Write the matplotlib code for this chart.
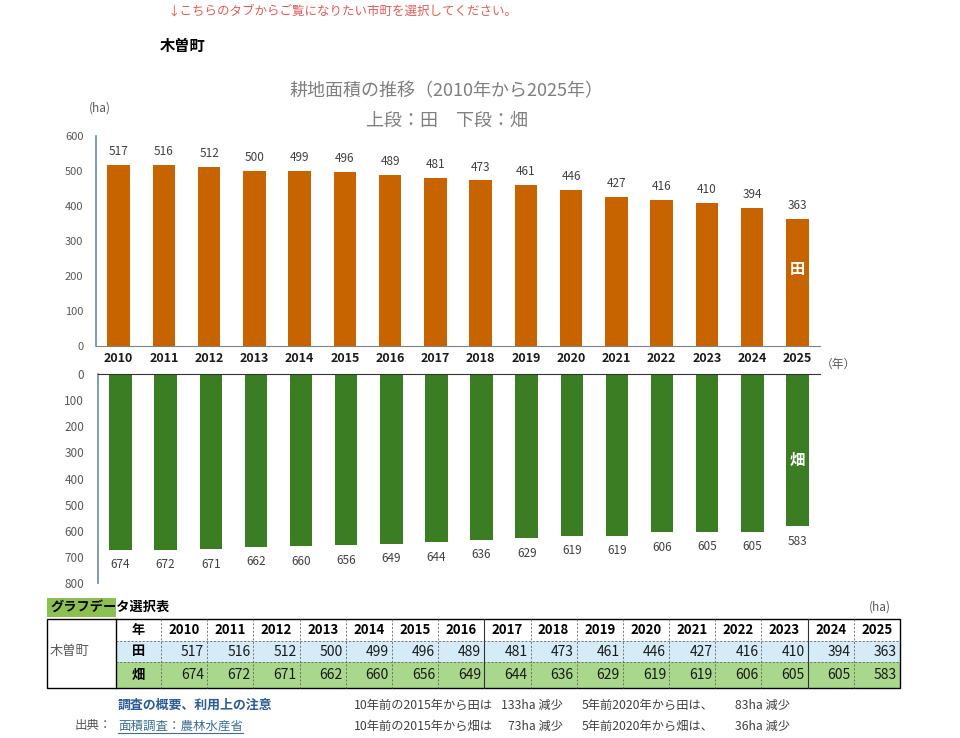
import numpy as np
import matplotlib.pyplot as plt

plt.rcParams['font.family'] = ['Noto Sans CJK JP', 'DejaVu Sans']

# data
town = '木曽町'
years = [2010, 2011, 2012, 2013, 2014, 2015, 2016, 2017,
         2018, 2019, 2020, 2021, 2022, 2023, 2024, 2025]
ta = [517, 516, 512, 500, 499, 496, 489, 481, 473, 461, 446, 427, 416, 410, 394, 363]      # 田
hata = [674, 672, 671, 662, 660, 656, 649, 644, 636, 629, 619, 619, 606, 605, 605, 583]    # 畑

W, H = 960, 738
fig = plt.figure(figsize=(W / 100, H / 100), dpi=100)


def box(l, t, r, b):
    # pixel box -> figure rect
    return [l / W, 1 - b / H, (r - l) / W, (b - t) / H]


x = np.arange(len(years))
axis_col = '#6A8CA3'

### 上段：田
ax1 = fig.add_axes(box(96, 136, 820, 346))
ax1.bar(x, ta, width=0.5, color='#C86400')
ax1.set_xlim(-0.5, len(years) - 0.5)
ax1.set_ylim(0, 600)
ax1.set_yticks(range(0, 601, 100))
ax1.set_xticks(x)
ax1.set_xticklabels(years, fontweight='bold', fontsize=9, color='#1A1A1A')
ax1.tick_params(length=0)
ax1.tick_params(axis='y', labelsize=8, labelcolor='#595959', pad=9)
ax1.tick_params(axis='x', pad=4.5)
for s in ['top', 'right']:
    ax1.spines[s].set_visible(False)
ax1.spines['left'].set_color(axis_col)
ax1.spines['left'].set_linewidth(1.2)
ax1.spines['bottom'].set_color('#808080')
for xi, v in zip(x, ta):
    ax1.annotate(str(v), (xi, v), xytext=(0, 5), textcoords='offset points',
                 ha='center', va='bottom', fontsize=8.5, color='#404040')
ax1.text(x[-1], 220, '田', color='white', fontweight='bold', fontsize=11,
         ha='center', va='center')

### 下段：畑
ax2 = fig.add_axes(box(98, 374, 820, 583))
ax2.bar(x, hata, width=0.5, color='#3A7D22')
ax2.set_xlim(-0.5, len(years) - 0.5)
ax2.set_ylim(800, 0)
ax2.set_yticks(range(0, 801, 100))
ax2.set_xticks([])
ax2.tick_params(length=0)
ax2.tick_params(axis='y', labelsize=8.5, labelcolor='#595959', pad=10)
for s in ['bottom', 'right']:
    ax2.spines[s].set_visible(False)
ax2.spines['left'].set_color(axis_col)
ax2.spines['left'].set_linewidth(1.2)
ax2.spines['top'].set_color('#333333')
for xi, v in zip(x, hata):
    ax2.annotate(str(v), (xi, v), xytext=(0, -6), textcoords='offset points',
                 ha='center', va='top', fontsize=8.5, color='#404040')
ax2.text(x[-1], 330, '畑', color='white', fontweight='bold', fontsize=11,
         ha='center', va='center')

### overlay in pixel coords
ov = fig.add_axes([0, 0, 1, 1])
ov.set_xlim(0, W)
ov.set_ylim(H, 0)
ov.axis('off')
ov.patch.set_alpha(0)

ov.text(168, 11, '↓こちらのタブからご覧になりたい市町を選択してください。',
        color='#E25A5A', fontsize=9, va='center', ha='left')
ov.text(160, 46, town, fontsize=11, fontweight='bold', va='center', ha='left')
ov.text(447, 91, '耕地面積の推移（2010年から2025年）', color='#7F7F7F',
        fontsize=13, ha='center', va='center')
ov.text(447, 121, '上段：田　下段：畑', color='#7F7F7F', fontsize=13,
        ha='center', va='center')
ov.text(100, 108, '(ha)', color='#595959', fontsize=8.5, ha='center', va='center')
ov.text(838, 364, '（年）', color='#595959', fontsize=8.5, ha='center', va='center')

### table
tl, tn, ty_, tr = 47, 116, 161, 900
rows = [619, 641, 662, 688]
colw = (tr - ty_) / len(years)

ov.add_patch(plt.Rectangle((tl, 598), tn - tl, 19, color='#8CC152', lw=0))
ov.text(50, 607, 'グラフデータ選択表', fontsize=9.5, fontweight='bold',
        ha='left', va='center')
ov.text(880, 607, '(ha)', color='#595959', fontsize=8.5, ha='center', va='center')

ov.add_patch(plt.Rectangle((tn, rows[1]), tr - tn, rows[2] - rows[1],
                           color='#D5ECF8', lw=0))
ov.add_patch(plt.Rectangle((tn, rows[2]), tr - tn, rows[3] - rows[2],
                           color='#A9D78C', lw=0))

dash = (0, (2.5, 2))
for yy in rows[1:3]:
    ov.plot([tn, tr], [yy, yy], color='#666666', lw=0.6, ls=dash)
for i in range(len(years)):
    xx = ty_ + i * colw
    solid = years[i] in (2017, 2024)
    ov.plot([xx, xx], [rows[0], rows[3]], color='#333333' if solid else '#666666',
            lw=0.8 if solid else 0.6, ls='-' if solid else dash)
ov.plot([tn, tn], [rows[0], rows[3]], color='black', lw=1)
ov.add_patch(plt.Rectangle((tl, rows[0]), tr - tl, rows[3] - rows[0],
                           fill=False, ec='black', lw=1))

rc = [(a + b) / 2 for a, b in zip(rows[:-1], rows[1:])]
ov.text(50, rc[1], town, color='#595959', fontsize=9.5, ha='left', va='center')
for lab, yy in zip(['年', '田', '畑'], rc):
    ov.text((tn + ty_) / 2, yy, lab, fontsize=9.5, fontweight='bold',
            ha='center', va='center')
for i, yr in enumerate(years):
    cx = ty_ + (i + 0.5) * colw
    ov.text(cx, rc[0], str(yr), fontsize=9.5, fontweight='bold',
            ha='center', va='center')
    ov.text(cx + colw / 2 - 3, rc[1], str(ta[i]), fontsize=10,
            ha='right', va='center', color='#1A1A1A')
    ov.text(cx + colw / 2 - 3, rc[2], str(hata[i]), fontsize=10,
            ha='right', va='center', color='#1A1A1A')

### notes
r1, r2 = 705, 726
ov.text(118, r1, '調査の概要、利用上の注意', color='#2E5C9A', fontsize=9.3,
        fontweight='bold', ha='left', va='center')
ov.text(75, r2, '出典：', color='#595959', fontsize=9, ha='left', va='center')
src = ov.text(118, r2, '面積調査：農林水産省', color='#3F6F8F', fontsize=9,
              ha='left', va='center')

i15 = years.index(2015)
i20 = years.index(2020)
notes = [
    ('田', ta[i15] - ta[-1], ta[i20] - ta[-1], r1),
    ('畑', hata[i15] - hata[-1], hata[i20] - hata[-1], r2),
]
for k, d10, d5, yy in notes:
    ov.text(354, yy, f'10年前の2015年から{k}は', color='#404040', fontsize=8.8,
            ha='left', va='center')
    ov.text(563, yy, f'{d10}ha 減少', color='#404040', fontsize=8.8,
            ha='right', va='center')
    ov.text(582, yy, f'5年前2020年から{k}は、', color='#404040', fontsize=8.8,
            ha='left', va='center')
    ov.text(790, yy, f'{d5}ha 減少', color='#404040', fontsize=8.8,
            ha='right', va='center')

# underline the source link
fig.canvas.draw()
bb = src.get_window_extent().transformed(ov.transData.inverted())
ov.plot([bb.x0, bb.x1], [max(bb.y0, bb.y1)] * 2, color='#3F6F8F', lw=0.8)

fig.savefig('out.png', dpi=100)
